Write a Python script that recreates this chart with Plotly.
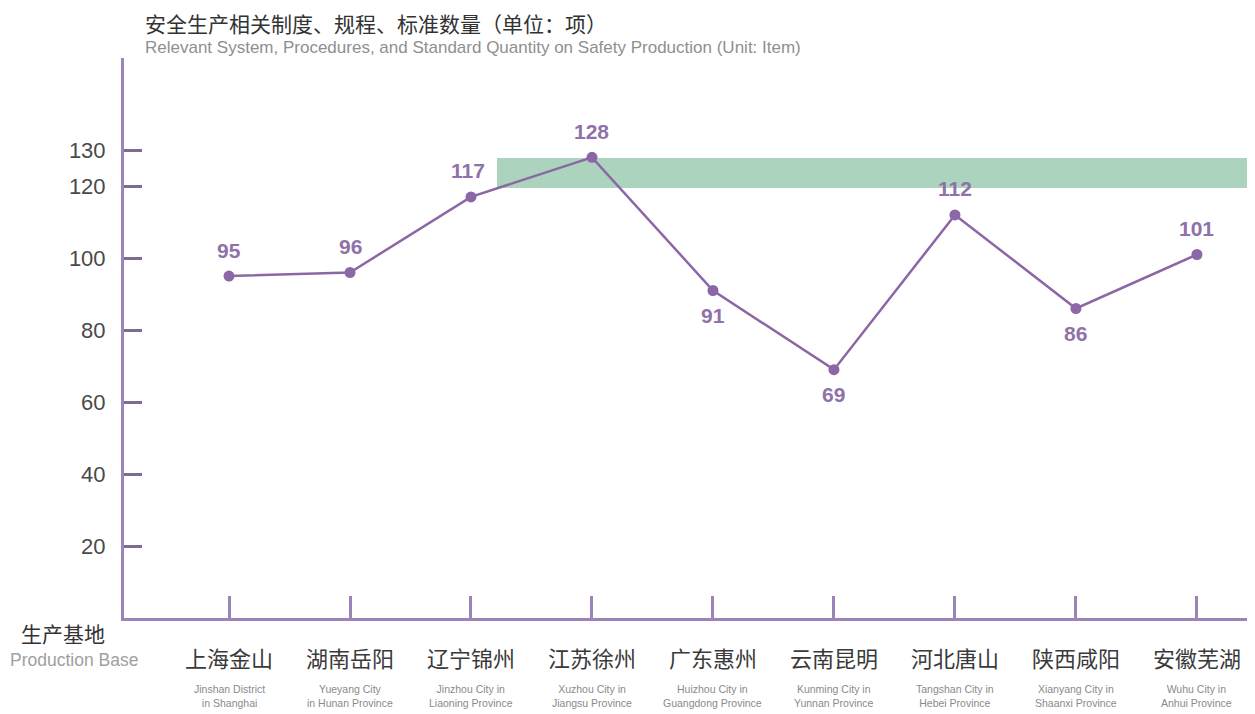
import plotly.graph_objects as go

cities_cn = ["上海金山", "湖南岳阳", "辽宁锦州", "江苏徐州", "广东惠州", "云南昆明", "河北唐山", "陕西咸阳", "安徽芜湖"]
cities_en = ["Jinshan District<br>in Shanghai", "Yueyang City<br>in Hunan Province", "Jinzhou City in<br>Liaoning Province",
             "Xuzhou City in<br>Jiangsu Province", "Huizhou City in<br>Guangdong Province", "Kunming City in<br>Yunnan Province",
             "Tangshan City in<br>Hebei Province", "Xianyang City in<br>Shaanxi Province", "Wuhu City in<br>Anhui Province"]
values = [95, 96, 117, 128, 91, 69, 112, 86, 101]
y_ticks = [20, 40, 60, 80, 100, 120, 130]

x = list(range(len(cities_cn)))
label_above = [True, True, True, True, False, False, True, False, True]

AX = "#9c84b8"
LINE = "#8c67a6"
LABEL = "#8f72a9"

# page-pixel helpers (plot area spans page x 124..1255, y 58..618)
PL, PR, PT, PB = 124, 1255, 58, 618
def px(v):
    return (v - PL) / (PR - PL)
def py(v):
    return (PB - v) / (PB - PT)

fig = go.Figure()
fig.add_trace(go.Scatter(
    x=x, y=values, mode="lines+markers",
    line=dict(color=LINE, width=2.5),
    marker=dict(color=LINE, size=11),
    cliponaxis=False, hoverinfo="skip", showlegend=False,
))

for i, (v, up) in enumerate(zip(values, label_above)):
    fig.add_annotation(x=i, y=v, xref="x", yref="y", text=str(v), showarrow=False,
                       xanchor="center", yanchor="middle",
                       yshift=26 if up else -25, xshift=-3 if i == 2 else 0,
                       font=dict(family="Liberation Sans, Arial, sans-serif", size=21,
                                 color=LABEL, weight="bold"))

fig.update_layout(
    width=1247, height=706,
    margin=dict(l=116, r=0, t=50, b=96),
    paper_bgcolor="white", plot_bgcolor="white",
    font=dict(family="Noto Sans CJK SC, sans-serif"),
)
fig.update_xaxes(
    range=[-0.868, 8.48], tickvals=x, ticktext=[""] * len(x),
    ticks="inside", ticklen=22, tickwidth=2.5, tickcolor=AX,
    showline=True, linecolor=AX, linewidth=3, showgrid=False, zeroline=False,
)
fig.update_yaxes(
    range=[0, 155.6], tickvals=y_ticks, ticktext=[str(t) for t in y_ticks],
    ticks="inside", ticklen=18, tickwidth=2.5, tickcolor="#7f6a93",
    tickfont=dict(family="Liberation Sans, Arial, sans-serif", size=22, color="#4a4a4a"),
    ticklabelstandoff=11,
    showline=True, linecolor=AX, linewidth=3, showgrid=False, zeroline=False,
)

for i, (cn, en) in enumerate(zip(cities_cn, cities_en)):
    fig.add_annotation(x=i, y=py(657), xref="x", yref="paper", text=cn, showarrow=False,
                       xanchor="center", yanchor="middle",
                       font=dict(family="Noto Sans CJK SC", size=22, color="#3a3a3a"))
    fig.add_annotation(x=i, y=py(696), xref="x", yref="paper", text=en, showarrow=False,
                       xanchor="center", yanchor="middle", align="center",
                       font=dict(family="Liberation Sans, Arial", size=10.5, color="#8a8a8a"))

# axis name (x)
fig.add_annotation(xref="paper", yref="paper", x=px(63), y=py(633), xanchor="center", yanchor="middle",
                   text="生产基地", showarrow=False,
                   font=dict(family="Noto Sans CJK SC", size=21, color="#333333"))
fig.add_annotation(xref="paper", yref="paper", x=px(74), y=py(660), xanchor="center", yanchor="middle",
                   text="Production Base", showarrow=False,
                   font=dict(family="Liberation Sans, Arial", size=17.5, color="#a0a0a0"))

# title
fig.add_annotation(xref="paper", yref="paper", x=px(143), y=py(23), xanchor="left", yanchor="middle",
                   text="安全生产相关制度、规程、标准数量（单位：项）", showarrow=False,
                   font=dict(family="Noto Sans CJK SC", size=21, color="#333333"))
fig.add_annotation(xref="paper", yref="paper", x=px(143), y=py(47), xanchor="left", yanchor="middle",
                   text="Relevant System, Procedures, and Standard Quantity on Safety Production (Unit: Item)",
                   showarrow=False, font=dict(family="Liberation Sans, Arial", size=17, color="#8f8f8f"))

# green overlay band seen in the reference image
fig.add_shape(type="rect", xref="paper", yref="paper",
              x0=px(497), x1=px(1248), y0=py(188), y1=py(158),
              fillcolor="#acd3bd", line=dict(width=0), layer="below")

fig.write_html("out.html")
